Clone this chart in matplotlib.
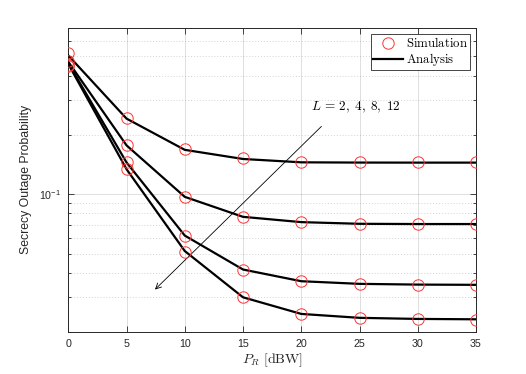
import numpy as np
import matplotlib
matplotlib.use("Agg")
import matplotlib.pyplot as plt
from matplotlib.ticker import LogLocator, NullFormatter, FixedLocator

plt.rcParams["mathtext.fontset"] = "cm"
plt.rcParams["font.family"] = ["Liberation Sans", "DejaVu Sans"]

# transmit power of the relay, dBW
p_r = [0, 5, 10, 15, 20, 25, 30, 35]

# simulated secrecy outage probability, L = 2, 4, 8, 12
sim_L2 = [0.518, 0.244, 0.169, 0.152, 0.1454, 0.145, 0.145, 0.145]
sim_L4 = [0.473, 0.177, 0.097, 0.0768, 0.0724, 0.0707, 0.0707, 0.0707]
sim_L8 = [0.455, 0.145, 0.0617, 0.0415, 0.0362, 0.0351, 0.0347, 0.0347]
sim_L12 = [0.447, 0.135, 0.0508, 0.0300, 0.0247, 0.0235, 0.0232, 0.0231]

# analytical curves
ana_L2 = [0.506, 0.242, 0.168, 0.151, 0.1452, 0.1448, 0.1447, 0.1447]
ana_L4 = [0.470, 0.177, 0.097, 0.0768, 0.0722, 0.0708, 0.0706, 0.0706]
ana_L8 = [0.462, 0.145, 0.0617, 0.0415, 0.0362, 0.0351, 0.0348, 0.0347]
ana_L12 = [0.458, 0.134, 0.0515, 0.0300, 0.0247, 0.0236, 0.0233, 0.0232]

x_ticks = [0, 5, 10, 15, 20, 25, 30, 35]

GRAY = (0.15, 0.15, 0.15)

fig = plt.figure(figsize=(5.26, 3.74), dpi=100)
fig.subplots_adjust(left=68.3 / 526, right=476 / 526,
                    top=1 - 27.7 / 374, bottom=1 - 332 / 374)
ax = fig.add_subplot(111)

for i, (sim, ana) in enumerate([(sim_L2, ana_L2), (sim_L4, ana_L4),
                                (sim_L8, ana_L8), (sim_L12, ana_L12)]):
    ax.plot(p_r, ana, color="black", linewidth=1.6,
            label=r"$\mathrm{Analysis}$" if i == 0 else None, zorder=3)
    ax.plot(p_r, sim, linestyle="none", marker="o", markersize=8.2,
            markerfacecolor="none", markeredgecolor=(1.0, 0.2, 0.2),
            markeredgewidth=0.7,
            label=r"$\mathrm{Simulation}$" if i == 0 else None, zorder=4)

ax.set_yscale("log")
ax.set_xlim(0, 35)
ax.set_ylim(0.02, 0.7)
ax.xaxis.set_major_locator(FixedLocator(x_ticks))
ax.yaxis.set_major_locator(FixedLocator([0.1]))
ax.yaxis.set_minor_locator(LogLocator(base=10, subs=np.arange(2, 10)))
ax.yaxis.set_minor_formatter(NullFormatter())
ax.set_yticklabels([r"$\mathdefault{10^{-1}}$"])

ax.grid(True, which="major", color=GRAY, alpha=0.15, linewidth=0.7)
ax.grid(True, which="minor", axis="y", color=GRAY, alpha=0.2,
        linestyle=(0, (1, 2)), linewidth=0.7)

ax.tick_params(which="both", direction="in", top=True, right=True,
               colors=GRAY, labelcolor=GRAY, labelsize=7.7, width=0.6)
ax.tick_params(which="major", length=4, pad=5)
ax.tick_params(which="minor", length=2.5)
for s in ax.spines.values():
    s.set_color(GRAY)
    s.set_linewidth(0.7)

ax.set_xlabel(r"$P_R\ \mathrm{[dBW]}$", fontsize=10, color=GRAY, labelpad=2)
ax.set_ylabel("Secrecy Outage Probability", fontsize=8.8, color=GRAY, labelpad=5)

ax.annotate("", xy=(7.27, 0.0321), xytext=(21.9, 0.226),
            arrowprops=dict(arrowstyle="->", color="black", linewidth=0.6,
                            mutation_scale=10))
ax.text(20.8, 0.275, r"$L\,=\,2,\;4,\;8,\;12$", fontsize=9.5, va="center",
        ha="left")

handles, labels = ax.get_legend_handles_labels()
leg = ax.legend([handles[1], handles[0]], [labels[1], labels[0]],
                loc="upper right", fontsize=9.2, fancybox=False,
                edgecolor=GRAY, framealpha=1, handlelength=2.3,
                handletextpad=0.25, borderpad=0.15, labelspacing=0.1,
                borderaxespad=0.5)
leg.get_frame().set_linewidth(0.6)

fig.savefig("out.png", dpi=100)
